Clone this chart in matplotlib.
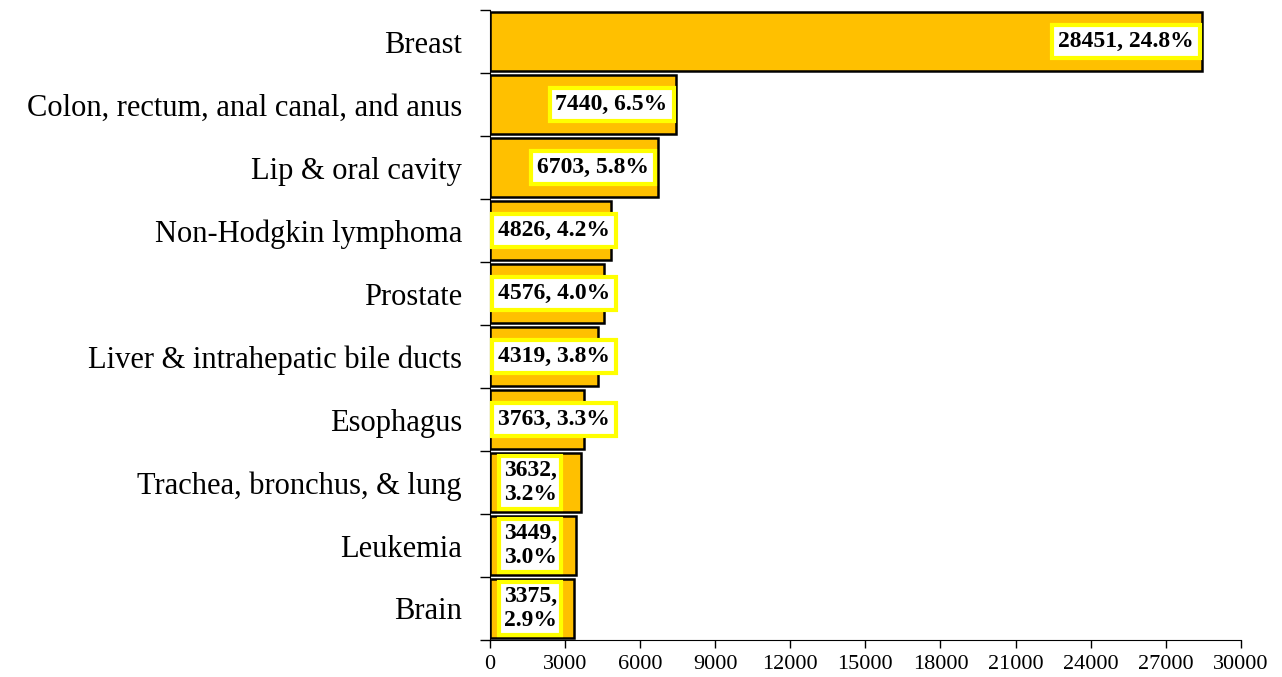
import numpy as np
import matplotlib
matplotlib.use("Agg")
import matplotlib.pyplot as plt

categories = ["Breast", "Colon, rectum, anal canal, and anus", "Lip & oral cavity",
              "Non-Hodgkin lymphoma", "Prostate", "Liver & intrahepatic bile ducts",
              "Esophagus", "Trachea, bronchus, & lung", "Leukemia", "Brain"]
counts = [28451, 7440, 6703, 4826, 4576, 4319, 3763, 3632, 3449, 3375]
percents = [24.8, 6.5, 5.8, 4.2, 4.0, 3.8, 3.3, 3.2, 3.0, 2.9]
xticks = list(range(0, 30001, 3000))

plt.rcParams["font.family"] = ["Liberation Serif", "DejaVu Serif"]

fig = plt.figure(figsize=(12.82, 6.77), dpi=100)
ax = fig.add_axes([0.382, 0.0547, 0.586, 0.93])

y = np.arange(len(categories))
ax.barh(y, counts, height=0.94, color="#FFC000", edgecolor="black", linewidth=1.8)
ax.set_ylim(len(categories) - 0.5, -0.5)
ax.set_xlim(0, 30000)

ax.set_yticks(y)
ax.set_yticklabels(categories, fontsize=22)
ax.tick_params(axis="y", length=0, pad=20)
ax.set_yticks(np.arange(len(categories) + 1) - 0.5, minor=True)
ax.tick_params(axis="y", which="minor", length=7, width=1)

ax.set_xticks(xticks)
ax.set_xticklabels([str(t) for t in xticks], fontsize=16)
ax.tick_params(axis="x", length=6, width=1, pad=5)

for s in ["top", "right"]:
    ax.spines[s].set_visible(False)

box = dict(boxstyle="square,pad=0.25", facecolor="white", edgecolor="#FFFF00", linewidth=3)
box2 = dict(boxstyle="square,pad=0.2", facecolor="white", edgecolor="#FFFF00", linewidth=3)
for i, (c, p) in enumerate(zip(counts, percents)):
    if i < 3:
        ax.annotate(f"{c}, {p:.1f}%", (c, i), xytext=(-6, 0), textcoords="offset points",
                    ha="right", va="center", fontsize=17, fontweight="bold", bbox=box)
    elif i < 7:
        ax.annotate(f"{c}, {p:.1f}%", (0, i), xytext=(6, 0), textcoords="offset points",
                    ha="left", va="center", fontsize=17, fontweight="bold", bbox=box)
    else:
        ax.annotate(f"{c},\n{p:.1f}%", (0, i), xytext=(10, 0), textcoords="offset points",
                    ha="left", va="center", fontsize=17, fontweight="bold", bbox=box2,
                    multialignment="center", linespacing=1.15)

fig.savefig("out.png", dpi=100)
